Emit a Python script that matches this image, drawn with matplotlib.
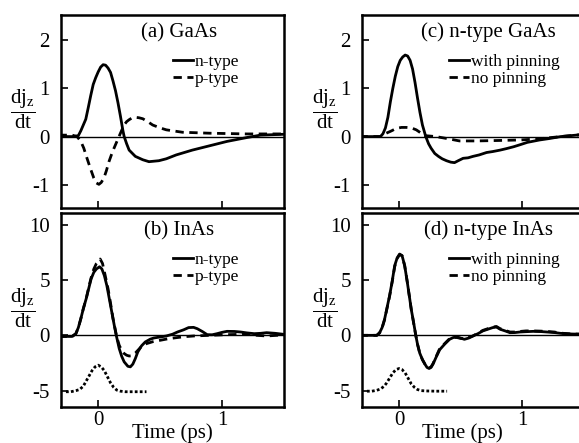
import matplotlib
matplotlib.use("Agg")
import matplotlib.pyplot as plt

plt.rcParams['font.family'] = ['Liberation Serif', 'DejaVu Serif']
plt.rcParams['mathtext.fontset'] = 'custom'
plt.rcParams['mathtext.rm'] = 'Liberation Serif'
plt.rcParams['mathtext.it'] = 'Liberation Serif:italic'
plt.rcParams['axes.unicode_minus'] = False

# (a) GaAs
a_n_t = [-0.32, -0.20, -0.16, -0.14, -0.12, -0.10, -0.08, -0.06, -0.04, -0.02, 0.0, 0.02, 0.04, 0.06,
         0.08, 0.10, 0.12, 0.14, 0.16, 0.18, 0.20, 0.21, 0.23, 0.25, 0.30, 0.36, 0.41, 0.49, 0.55,
         0.63, 0.76, 0.90, 1.04, 1.20, 1.31, 1.52]
a_n_y = [0.0, 0.0, 0.02, 0.12, 0.24, 0.36, 0.6, 0.85, 1.08, 1.22, 1.34, 1.44, 1.49, 1.48,
         1.42, 1.33, 1.15, 0.95, 0.70, 0.42, 0.12, 0.0, -0.15, -0.28, -0.41, -0.48, -0.52, -0.50, -0.46,
         -0.38, -0.28, -0.19, -0.10, -0.02, 0.03, 0.05]
a_p_t = [-0.32, -0.21, -0.17, -0.14, -0.116, -0.09, -0.06, -0.035, -0.015, 0.006, 0.025, 0.046,
         0.066, 0.087, 0.108, 0.128, 0.148, 0.168, 0.19, 0.209, 0.23, 0.25, 0.275, 0.30, 0.33, 0.36,
         0.40, 0.44, 0.50, 0.55, 0.68, 0.90, 1.20, 1.52]
a_p_y = [0.03, 0.03, 0.0, -0.1, -0.24, -0.45, -0.68, -0.86, -0.96, -0.99, -0.95, -0.86,
         -0.71, -0.52, -0.37, -0.24, -0.12, 0.0, 0.13, 0.24, 0.31, 0.35, 0.39, 0.40, 0.39, 0.37,
         0.31, 0.24, 0.18, 0.14, 0.09, 0.07, 0.055, 0.055]

# (c) n-type GaAs
c_w_t = [-0.32, -0.15, -0.13, -0.11, -0.09, -0.07, -0.05, -0.03, -0.01, 0.01, 0.03, 0.05, 0.07, 0.09,
         0.11, 0.13, 0.15, 0.17, 0.19, 0.217, 0.24, 0.26, 0.29, 0.32, 0.35, 0.385, 0.42, 0.45, 0.48,
         0.52, 0.56, 0.60, 0.65, 0.71, 0.76, 0.82, 0.87, 0.93, 0.98, 1.04, 1.14, 1.22, 1.31, 1.52]
c_w_y = [0.0, 0.0, 0.06, 0.18, 0.40, 0.72, 1.00, 1.25, 1.45, 1.58, 1.65, 1.69, 1.67, 1.58,
         1.40, 1.12, 0.80, 0.50, 0.24, 0.0, -0.15, -0.24, -0.35, -0.41, -0.46, -0.50, -0.53, -0.54, -0.50,
         -0.45, -0.44, -0.41, -0.38, -0.33, -0.31, -0.28, -0.25, -0.21, -0.17, -0.12, -0.07, -0.04, 0.0, 0.05]
c_np_t = [-0.32, -0.15, -0.103, -0.06, -0.022, 0.02, 0.06, 0.10, 0.14, 0.18, 0.21, 0.30, 0.41, 0.49,
          0.63, 0.82, 0.98, 1.12, 1.31, 1.52]
c_np_y = [0.0, 0.0, 0.07, 0.12, 0.17, 0.19, 0.19, 0.18, 0.14, 0.07, 0.02, 0.0, -0.05, -0.09,
          -0.09, -0.08, -0.07, -0.05, 0.0, 0.05]

# (b) InAs
b_n_t = [-0.32, -0.21, -0.18, -0.16, -0.14, -0.12, -0.097, -0.077, -0.057, -0.035, -0.014, 0.011,
         0.03, 0.05, 0.07, 0.09, 0.11, 0.13, 0.146, 0.17, 0.19, 0.21, 0.24, 0.26, 0.28, 0.30, 0.32,
         0.35, 0.38, 0.42, 0.45, 0.50, 0.55, 0.60, 0.64, 0.69, 0.73, 0.77, 0.80, 0.84, 0.88, 0.92,
         0.96, 1.00, 1.04, 1.10, 1.15, 1.20, 1.26, 1.31, 1.36, 1.43, 1.52]
b_n_y = [-0.1, -0.1, 0.15, 0.7, 1.5, 2.4, 3.3, 4.2, 5.1, 5.7, 6.0, 6.2,
         6.0, 5.4, 4.5, 3.3, 2.1, 0.9, 0.0, -1.2, -1.9, -2.4, -2.8, -2.85, -2.6, -2.1, -1.5,
         -0.95, -0.6, -0.35, -0.24, -0.15, -0.06, 0.1, 0.3, 0.5, 0.7, 0.72, 0.6, 0.35, 0.06, 0.05,
         0.15, 0.27, 0.36, 0.35, 0.3, 0.22, 0.15, 0.18, 0.24, 0.18, 0.06]
b_p_t = [-0.32, -0.21, -0.18, -0.16, -0.14, -0.12, -0.097, -0.077, -0.057, -0.035, -0.014, 0.016,
         0.035, 0.055, 0.08, 0.10, 0.12, 0.15, 0.17, 0.19, 0.21, 0.23, 0.25, 0.27, 0.30, 0.32, 0.35,
         0.39, 0.44, 0.50, 0.57, 0.64, 0.70, 0.77, 0.90, 1.04, 1.20, 1.28, 1.36, 1.52]
b_p_y = [-0.1, -0.1, 0.15, 0.7, 1.5, 2.4, 3.3, 4.3, 5.2, 6.0, 6.5, 6.9,
         6.5, 5.5, 4.2, 2.9, 1.5, -0.15, -0.9, -1.36, -1.65, -1.8, -1.87, -1.85, -1.6, -1.36, -1.0,
         -0.75, -0.58, -0.45, -0.3, -0.2, -0.12, -0.06, 0.0, 0.06, 0.1, 0.0, -0.06, 0.06]

# (d) n-type InAs
d_w_t = [-0.32, -0.18, -0.157, -0.137, -0.117, -0.097, -0.076, -0.055, -0.035, -0.015, 0.005, 0.025,
         0.046, 0.066, 0.087, 0.10, 0.114, 0.136, 0.15, 0.168, 0.19, 0.21, 0.227, 0.244, 0.26, 0.276,
         0.30, 0.33, 0.37, 0.41, 0.44, 0.47, 0.50, 0.53, 0.565, 0.60, 0.64, 0.68, 0.72, 0.76, 0.79,
         0.82, 0.86, 0.90, 0.94, 0.98, 1.03, 1.09, 1.15, 1.20, 1.26, 1.31, 1.40, 1.52]
d_w_y = [0.0, 0.0, 0.24, 0.7, 1.45, 2.5, 3.6, 4.9, 6.3, 7.0, 7.35, 7.2,
         6.3, 4.9, 3.3, 2.3, 1.45, 0.0, -0.8, -1.6, -2.2, -2.6, -2.9, -3.0, -2.9, -2.6,
         -2.0, -1.3, -0.8, -0.36, -0.2, -0.15, -0.25, -0.36, -0.25, -0.06, 0.15, 0.4, 0.55, 0.7, 0.75,
         0.55, 0.4, 0.24, 0.25, 0.3, 0.33, 0.36, 0.34, 0.3, 0.25, 0.18, 0.12, 0.09]
d_np_y = [0.0, 0.0, 0.22, 0.68, 1.4, 2.45, 3.55, 4.85, 6.2, 6.95, 7.3, 7.2,
          6.3, 4.9, 3.3, 2.3, 1.4, 0.0, -0.8, -1.6, -2.2, -2.6, -2.85, -2.95, -2.85, -2.55,
          -1.95, -1.2, -0.75, -0.3, -0.18, -0.2, -0.28, -0.3, -0.2, -0.05, 0.2, 0.45, 0.6, 0.75, 0.8,
          0.6, 0.45, 0.3, 0.3, 0.35, 0.4, 0.4, 0.38, 0.35, 0.3, 0.2, 0.12, 0.1]

# pump pulse shown under the InAs traces
pulse_t = [-0.26, -0.22, -0.18, -0.15, -0.12, -0.10, -0.075, -0.05, -0.025, 0.0, 0.025, 0.05, 0.075,
           0.10, 0.125, 0.15, 0.18, 0.22, 0.30, 0.39]
pulse_b_y = [-5.1, -5.1, -5.0, -4.9, -4.6, -4.2, -3.7, -3.2, -2.85, -2.7, -2.85, -3.2, -3.75,
             -4.3, -4.7, -4.95, -5.05, -5.1, -5.1, -5.1]
pulse_d_y = [-5.05, -5.05, -4.97, -4.85, -4.6, -4.3, -3.85, -3.4, -3.1, -3.0, -3.1, -3.4, -3.9,
             -4.4, -4.7, -4.9, -5.0, -5.03, -5.05, -5.05]

panels = [
    ("(a) GaAs", a_n_t, a_n_y, a_p_t, a_p_y, ["n-type", "p-type"], None, (-1.48, 2.52), [-1, 0, 1, 2]),
    ("(c) n-type GaAs", c_w_t, c_w_y, c_np_t, c_np_y, ["with pinning", "no pinning"], None, (-1.48, 2.52), [-1, 0, 1, 2]),
    ("(b) InAs", b_n_t, b_n_y, b_p_t, b_p_y, ["n-type", "p-type"], pulse_b_y, (-6.48, 11.06), [-5, 0, 5, 10]),
    ("(d) n-type InAs", d_w_t, d_w_y, d_w_t, d_np_y, ["with pinning", "no pinning"], pulse_d_y, (-6.48, 11.06), [-5, 0, 5, 10]),
]

rects = [
    [61 / 579, 235 / 443, 223 / 579, 193 / 443],
    [362 / 579, 235 / 443, 222 / 579, 193 / 443],
    [61 / 579, 36 / 443, 223 / 579, 194 / 443],
    [362 / 579, 36 / 443, 222 / 579, 194 / 443],
]

fig = plt.figure(figsize=(5.79, 4.43), dpi=100)

for i, (title, t1, y1, t2, y2, labels, pulse, ylim, yticks) in enumerate(panels):
    ax = fig.add_axes(rects[i])
    ax.axhline(0, color='black', lw=1.0, zorder=1)
    ax.plot(t1, y1, color='black', lw=2.0, label=labels[0])
    ax.plot(t2, y2, color='black', lw=2.0, ls=(0, (3, 2)), label=labels[1])
    if pulse is not None:
        ax.plot(pulse_t, pulse, color='black', lw=2.0, ls=(0, (1, 0.8)))
    ax.set_xlim(-0.3, 1.5)
    ax.set_ylim(*ylim)
    ax.set_xticks([0, 1])
    ax.set_yticks(yticks)
    ax.tick_params(direction='in', length=5, width=1.2, labelsize=15, pad=8)
    ax.tick_params(axis='x', pad=3)
    for s in ax.spines.values():
        s.set_linewidth(1.8)
    if i < 2:
        ax.set_xticklabels([])
    else:
        ax.set_xlabel("Time (ps)", fontsize=15)
        ax.xaxis.set_label_coords(0.45 if i == 3 else 0.5, -0.085)
    ax.text(0.53 if i % 2 == 0 else 0.57, 0.91, title, transform=ax.transAxes,
            ha='center', va='center', fontsize=15)
    ax.text(-0.17, 0.51, r'$\dfrac{\mathrm{dj_z}}{\mathrm{dt}}$', transform=ax.transAxes,
            ha='center', va='center', fontsize=15)
    leg_x = 0.50 if i % 2 == 0 else 0.39
    ax.legend(loc='upper left', bbox_to_anchor=(leg_x, 0.80), frameon=False, fontsize=12.5,
              handlelength=1.2, handletextpad=0.1, borderpad=0, borderaxespad=0,
              labelspacing=0.05)

fig.savefig("out.png", dpi=100)
